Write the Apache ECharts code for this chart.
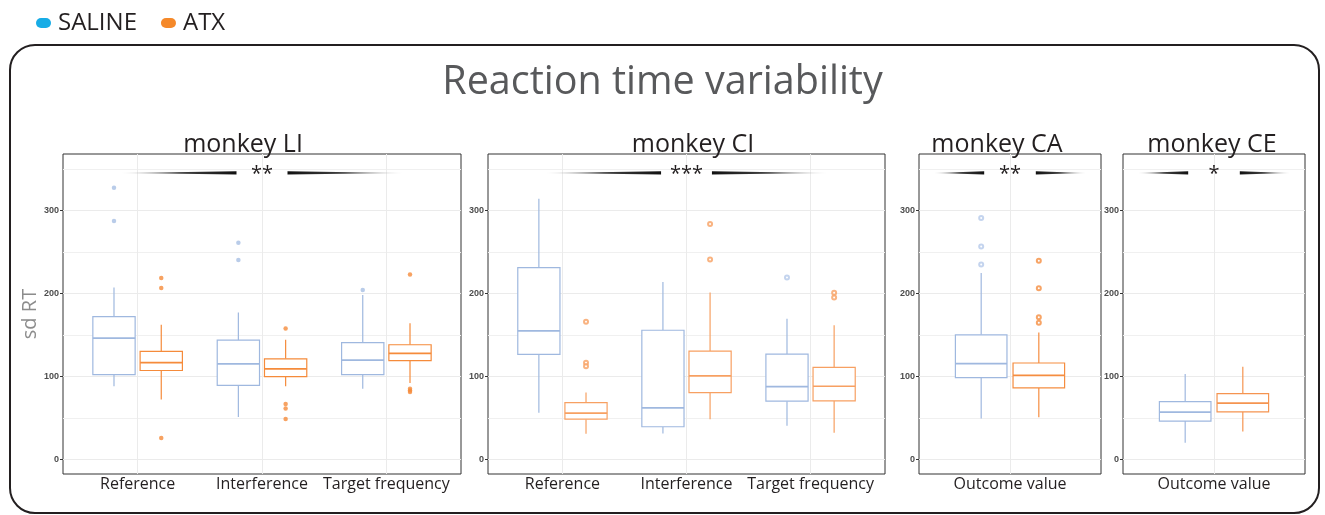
<!DOCTYPE html>
<html>
<head>
<meta charset="utf-8">
<title>Reaction time variability</title>
<script src="https://cdn.jsdelivr.net/npm/echarts@6/dist/echarts.min.js"></script>
<style>
  html, body { margin: 0; padding: 0; background: #fff; }
  #main { width: 1325px; height: 515px; }
</style>
</head>
<body>
<div id="main"></div>
<script>
// panels and conditions
var panelNames = ['monkey LI', 'monkey CI', 'monkey CA', 'monkey CE'];
var condLI = ['Reference', 'Interference', 'Target frequency'];
var condCI = ['Reference', 'Interference', 'Target frequency'];
var condCA = ['Outcome value'];
var condCE = ['Outcome value'];
var yTicks = [0, 100, 200, 300];
var yMinorTicks = [50, 150, 250, 350];
var stars = ['**', '***', '**', '*'];
var starLevel = 345;

// box stats: [lower whisker, q1, median, q3, upper whisker], one row per condition
var salineLI = [[88, 102, 146, 172, 207], [51, 89, 115, 143.5, 177], [85, 102, 119.5, 140.5, 198]];
var atxLI = [[72, 107, 116.5, 130, 162], [88, 99.6, 109, 121, 144], [92, 119, 127.5, 138, 164]];
var salineCI = [[56, 126.4, 154.8, 231, 314], [31, 39.2, 62, 155.5, 213.6], [40.4, 70, 87.6, 126.7, 169.2]];
var atxCI = [[30.7, 48.4, 55.6, 68.4, 80.4], [48.4, 80.4, 100.4, 130.4, 201], [32, 70.4, 88, 110.8, 161.5]];
var salineCA = [[49.2, 98.4, 115.2, 150, 224.4]];
var atxCA = [[50.8, 86, 101.2, 116, 152.8]];
var salineCE = [[20, 46, 56.8, 69.6, 102.8]];
var atxCE = [[33.6, 57.2, 67.6, 79.2, 111.6]];

// outliers: [condition index, value]
var salineOutLI = [[0, 327], [0, 287], [1, 261], [1, 240], [2, 204]];
var atxOutLI = [[0, 218.4], [0, 206.4], [0, 25.6], [1, 157.6], [1, 66.7], [1, 61.2], [1, 48.7], [2, 222.7], [2, 85], [2, 83], [2, 81]];
var salineOutCI = [[2, 219]];
var atxOutCI = [[0, 165.6], [0, 116.4], [0, 112], [1, 283.6], [1, 240.7], [2, 200.8], [2, 194.8]];
var salineOutCA = [[0, 290.8], [0, 256.4], [0, 234.7]];
var atxOutCA = [[0, 239.2], [0, 206], [0, 171.2], [0, 164.4]];
var salineOutCE = [];
var atxOutCE = [];

var cats = [condLI, condCI, condCA, condCE];
var salineBoxes = [salineLI, salineCI, salineCA, salineCE];
var atxBoxes = [atxLI, atxCI, atxCA, atxCE];
var salineOut = [salineOutLI, salineOutCI, salineOutCA, salineOutCE];
var atxOut = [atxOutLI, atxOutCI, atxOutCA, atxOutCE];

// layout / style
var gridPos = [{left: 63, width: 398}, {left: 488, width: 397}, {left: 919, width: 182}, {left: 1123, width: 182}];
var titleX = [243, 693, 997, 1212];
var hollow = [false, true, true, false];
var salineColor = '#9fb8df';
var salineOutColor = ['#a8bfe3', '#b5c9ea', '#b5c9ea', '#b5c9ea'];
var atxColor = ['#f58b3b', '#f7a062', '#f58d40', '#f59450'];
var DODGE = 0.19, BOX_W = 0.34;
var FONT = 'Open Sans';
var PILL = 'path://M5,0 H10 A5,5 0 0 1 10,10 H5 A5,5 0 0 1 5,0 Z';

var chart = echarts.init(document.getElementById('main'));

function renderBox(params, api) {
  var x = api.value(0);
  var lo = api.coord([x, api.value(1)]);
  var q1 = api.coord([x, api.value(2)]);
  var md = api.coord([x, api.value(3)]);
  var q3 = api.coord([x, api.value(4)]);
  var hi = api.coord([x, api.value(5)]);
  var half = api.size([BOX_W, 0])[0] / 2;
  var c = api.visual('color');
  var st = {stroke: c, fill: null, lineWidth: 1.2};
  return {
    type: 'group',
    children: [
      {type: 'line', shape: {x1: lo[0], y1: lo[1], x2: q1[0], y2: q1[1]}, style: st},
      {type: 'line', shape: {x1: q3[0], y1: q3[1], x2: hi[0], y2: hi[1]}, style: st},
      {type: 'rect', shape: {x: q3[0] - half, y: q3[1], width: half * 2, height: q1[1] - q3[1]}, style: {stroke: c, fill: '#fff', lineWidth: 1.2}},
      {type: 'line', shape: {x1: md[0] - half, y1: md[1], x2: md[0] + half, y2: md[1]}, style: {stroke: c, lineWidth: 1.7}}
    ]
  };
}

function makeSig(n, text) {
  var outer = n === 1 ? 0.5 : 1.13;
  var inner = n === 1 ? 0.17 : 0.205;
  return function (params, api) {
    var cx = api.value(0), yv = api.value(1);
    var a = api.coord([cx - outer, yv]), b = api.coord([cx - inner, yv]);
    var d = api.coord([cx + inner, yv]), e = api.coord([cx + outer, yv]);
    var c = api.coord([cx, yv]);
    return {
      type: 'group',
      children: [
        {type: 'polygon', shape: {points: [[a[0], a[1]], [b[0], b[1] - 1.8], [b[0], b[1] + 1.6]]},
          style: {fill: new echarts.graphic.LinearGradient(0, 0, 1, 0, [{offset: 0, color: '#e0e0e0'}, {offset: 0.5, color: '#444'}, {offset: 1, color: '#111'}])}},
        {type: 'polygon', shape: {points: [[d[0], d[1] - 1.8], [d[0], d[1] + 1.6], [e[0], e[1]]]},
          style: {fill: new echarts.graphic.LinearGradient(0, 0, 1, 0, [{offset: 0, color: '#111'}, {offset: 0.5, color: '#444'}, {offset: 1, color: '#e0e0e0'}])}},
        {type: 'text', x: c[0], y: c[1] + 1, style: {text: text, fill: '#231f20', fontSize: 20, fontFamily: FONT, align: 'center', verticalAlign: 'middle'}}
      ]
    };
  };
}

var grids = [], xAxes = [], yAxes = [], series = [], graphics = [];

panelNames.forEach(function (name, p) {
  var n = cats[p].length;
  var ticksX = cats[p].map(function (c, i) { return i + 1; });
  grids.push({left: gridPos[p].left, top: 154, width: gridPos[p].width, height: 320,
    show: true, borderColor: '#333', borderWidth: 1, backgroundColor: '#fff'});
  xAxes.push({
    type: 'value', gridIndex: p, min: 0.4, max: n + 0.6,
    axisLine: {show: false},
    axisTick: {show: false, customValues: ticksX},
    axisLabel: {customValues: ticksX, margin: 2, fontSize: 16, color: '#231f20', fontFamily: FONT,
      formatter: function (v) { return cats[p][Math.round(v) - 1]; }},
    splitLine: {show: true, lineStyle: {color: '#ebebeb', width: 1}}
  });
  yAxes.push({
    type: 'value', gridIndex: p, min: -17.7, max: 367.8,
    name: p === 0 ? 'sd RT' : '', nameLocation: 'middle', nameGap: 21,
    nameTextStyle: {fontSize: 20, color: '#8c8c8c', fontFamily: FONT},
    axisLine: {show: false},
    axisTick: {show: true, customValues: yTicks, length: 3, lineStyle: {color: '#333'}},
    axisLabel: {customValues: yTicks, margin: 4, fontSize: 9, fontWeight: 'bold', color: '#4d4d4d', fontFamily: 'Liberation Sans'},
    splitLine: {show: true, lineStyle: {color: '#ebebeb', width: 1}}
  });
  // minor grid lines
  yAxes.push({
    type: 'value', gridIndex: p, min: -17.7, max: 367.8,
    axisLine: {show: false},
    axisTick: {show: false, customValues: yMinorTicks},
    axisLabel: {show: false, customValues: yMinorTicks},
    splitLine: {show: true, lineStyle: {color: '#f0f0f0', width: 1}}
  });
  var yi = p * 2;

  series.push({
    name: 'SALINE', type: 'custom', xAxisIndex: p, yAxisIndex: yi,
    itemStyle: {color: salineColor}, renderItem: renderBox,
    encode: {x: 0, y: [1, 2, 3, 4, 5]},
    data: salineBoxes[p].map(function (s, i) { return [i + 1 - DODGE].concat(s); })
  });
  series.push({
    name: 'ATX', type: 'custom', xAxisIndex: p, yAxisIndex: yi,
    itemStyle: {color: atxColor[p]}, renderItem: renderBox,
    encode: {x: 0, y: [1, 2, 3, 4, 5]},
    data: atxBoxes[p].map(function (s, i) { return [i + 1 + DODGE].concat(s); })
  });
  series.push({
    name: 'SALINE', type: 'scatter', xAxisIndex: p, yAxisIndex: yi,
    symbol: hollow[p] ? 'emptyCircle' : 'circle', symbolSize: hollow[p] ? 4 : 4.5,
    itemStyle: {color: salineOutColor[p], borderWidth: hollow[p] ? 0.8 : 0}, silent: true,
    data: salineOut[p].map(function (o) { return [o[0] + 1 - DODGE, o[1]]; })
  });
  series.push({
    name: 'ATX', type: 'scatter', xAxisIndex: p, yAxisIndex: yi,
    symbol: hollow[p] ? 'emptyCircle' : 'circle', symbolSize: hollow[p] ? 4 : 4.5,
    itemStyle: {color: atxColor[p], borderWidth: hollow[p] ? 0.8 : 0}, silent: true,
    data: atxOut[p].map(function (o) { return [o[0] + 1 + DODGE, o[1]]; })
  });
  series.push({
    name: 'sig' + p, type: 'custom', xAxisIndex: p, yAxisIndex: yi, silent: true,
    renderItem: makeSig(n, stars[p]), z: 5,
    data: [[(n + 1) / 2, starLevel]]
  });

  graphics.push({type: 'text', x: titleX[p], y: 145, z: 100,
    style: {text: name, fill: '#231f20', fontSize: 25, fontFamily: FONT, align: 'center', verticalAlign: 'middle'}});
});

graphics.push({type: 'rect', z: -1, shape: {x: 10, y: 45, width: 1309, height: 468, r: 25},
  style: {fill: null, stroke: '#231f20', lineWidth: 2}});

var option = {
  backgroundColor: '#fff',
  animation: false,
  title: {text: 'Reaction time variability', left: 'center', top: 58,
    textStyle: {fontSize: 39.5, fontWeight: 'normal', color: '#58595b', fontFamily: FONT}},
  legend: {left: 36, top: 11, padding: 0, itemWidth: 15, itemHeight: 10, itemGap: 24, icon: PILL, selectedMode: false,
    textStyle: {fontSize: 24, color: '#231f20', fontFamily: FONT, padding: [0, 0, 0, 2]},
    data: [{name: 'SALINE', itemStyle: {color: '#17ace6'}}, {name: 'ATX', itemStyle: {color: '#f5892a'}}]},
  grid: grids,
  xAxis: xAxes,
  yAxis: yAxes,
  graphic: graphics,
  series: series
};
chart.setOption(option);
</script>
</body>
</html>
